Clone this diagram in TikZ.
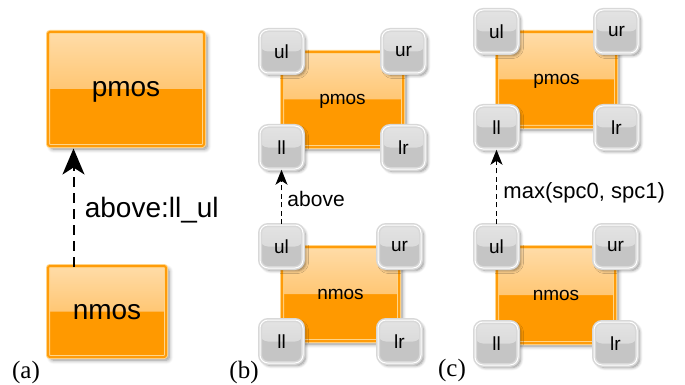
\documentclass[tikz,border=0pt]{standalone}
\usepackage{fontspec}
\setmainfont{Liberation Sans}
\newfontfamily\capfont{Liberation Serif}
\usetikzlibrary{arrows.meta,shadows.blur}

\definecolor{cellorange}{HTML}{FF9900}
\definecolor{celltop}{HTML}{FFDCA8}
\definecolor{cellmid}{HTML}{FFB140}
\definecolor{celledge}{HTML}{FF9C0A}
\definecolor{cellrim}{HTML}{FFD58A}
\definecolor{pintop}{HTML}{E3E3E3}
\definecolor{pinmid}{HTML}{D3D3D3}
\definecolor{pinlow}{HTML}{C5C5C5}
\definecolor{pinedge}{HTML}{D8D8D8}

\tikzset{
  cell/.style={draw=cellrim, line width=1pt, double=celledge, double distance=2pt,
    rounded corners=2pt, fill=cellorange, inner sep=0pt, text depth=0pt,
    blur shadow={shadow xshift=3pt, shadow yshift=-3pt, shadow blur steps=6,
      shadow blur radius=4pt, shadow opacity=45},
    path picture={\shade[top color=celltop, bottom color=cellmid]
      (path picture bounding box.north west) rectangle (path picture bounding box.east);}},
  pin/.style={draw=pinedge, line width=1.5pt, double=white, double distance=1pt,
    rounded corners=8pt, minimum size=43pt, inner sep=0pt, fill=pinlow, text depth=0pt,
    font=\fontsize{19}{19}\selectfont,
    blur shadow={shadow xshift=2.5pt, shadow yshift=-2.5pt, shadow blur steps=5,
      shadow blur radius=3pt, shadow opacity=45},
    path picture={\shade[top color=pintop, bottom color=pinmid]
      (path picture bounding box.north west) rectangle (path picture bounding box.east);}},
  dep/.style={dash pattern=on 10pt off 6pt, line width=2pt,
    -{Stealth[length=26pt,width=22pt,inset=7pt]}},
  deps/.style={dash pattern=on 5pt off 3.5pt, line width=1.3pt,
    -{Stealth[length=15pt,width=12pt,inset=4pt]}},
  caption/.style={font=\capfont\fontsize{25}{25}\selectfont, inner sep=0pt}
}

\begin{document}
\begin{tikzpicture}[x=1pt,y=-1pt]
  \useasboundingbox (0,0) rectangle (685,385);

  % (a) plain cells with one constraint
  \node[cell, minimum width=156pt, minimum height=114pt, font=\fontsize{28}{28}\selectfont]
    (ap) at (126,89) {pmos};
  \node[cell, minimum width=118pt, minimum height=91pt, font=\fontsize{28}{28}\selectfont]
    (an) at (107,311.5) {nmos};
  \coordinate (afoot) at ([xshift=26pt,yshift=-1pt]an.north west);
  \draw[dep] (afoot) -- ([yshift=-2pt]afoot |- ap.south)
    node[midway, right=7pt, yshift=-3pt, font=\fontsize{28}{28}\selectfont] (alab) {above:ll\_ul};
  \node[caption] (acap) at (26,372) {(a)};

  % (b) cells with corner pins
  \node[cell, minimum width=121pt, minimum height=95pt, font=\fontsize{19}{19}\selectfont]
    (bp) at (342.5,99.5) {pmos};
  \node[cell, minimum width=117pt, minimum height=94pt, font=\fontsize{19}{19}\selectfont]
    (bn) at (340.5,294) {nmos};
  \foreach \c in {bp, bn}{
    \node[pin] (\c ul) at (\c.north west) {ul};
    \node[pin] (\c ur) at (\c.north east) {ur};
    \node[pin] (\c ll) at (\c.south west) {ll};
    \node[pin] (\c lr) at (\c.south east) {lr};
  }
  \draw[deps] (bnul.north) -- (bpll.south)
    node[midway, right=2pt, yshift=-2pt, font=\fontsize{21}{21}\selectfont] (blab) {above};
  \node[caption] (bcap) at (244,372) {(b)};

  % (c) pins spaced by the larger gap
  \node[cell, minimum width=119pt, minimum height=95pt, font=\fontsize{19}{19}\selectfont]
    (cp) at (556.5,79.5) {pmos};
  \node[cell, minimum width=118pt, minimum height=96pt, font=\fontsize{19}{19}\selectfont]
    (cn) at (556,295) {nmos};
  \foreach \c in {cp, cn}{
    \node[pin] (\c ul) at (\c.north west) {ul};
    \node[pin] (\c ur) at (\c.north east) {ur};
    \node[pin] (\c ll) at (\c.south west) {ll};
    \node[pin] (\c lr) at (\c.south east) {lr};
  }
  \draw[deps] (cnul.north) -- (cpll.south)
    node[midway, right=3pt, yshift=-6pt, font=\fontsize{22}{22}\selectfont] (clab) {max(spc0, spc1)};
  \node[caption] (ccap) at (452,370) {(c)};
\end{tikzpicture}
\end{document}
